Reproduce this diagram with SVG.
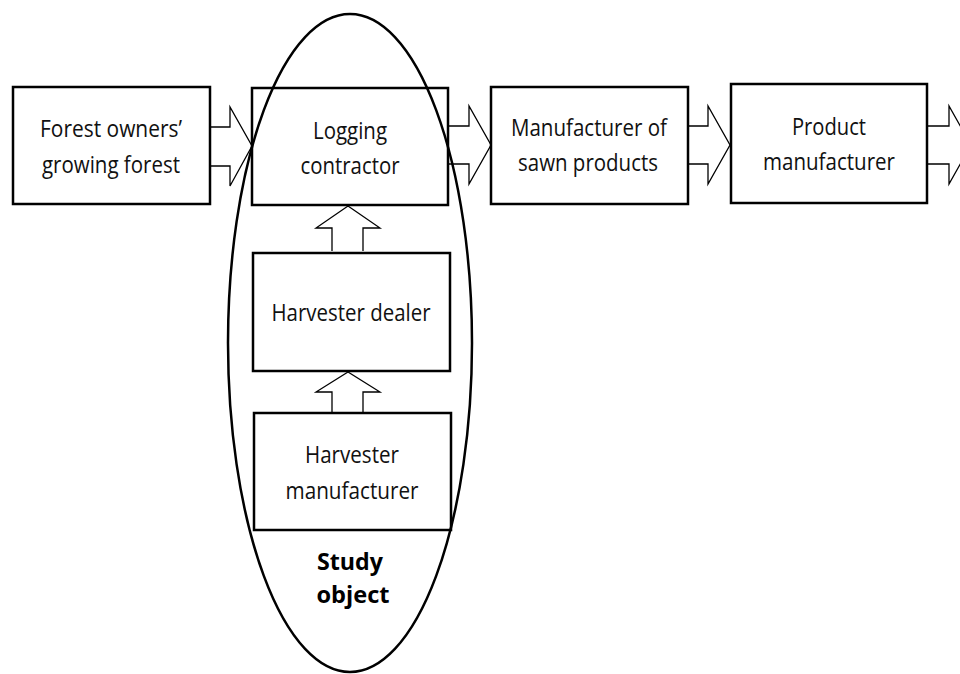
<svg xmlns="http://www.w3.org/2000/svg" width="960" height="674" viewBox="0 0 960 674">
<style>
.box{fill:#fff;stroke:#000;stroke-width:2.5}
.arr{fill:#fff;stroke:#000;stroke-width:1.3;stroke-linejoin:miter}
.t{font-family:"Open Sans","Liberation Sans",sans-serif;font-size:24px;fill:#111;text-anchor:middle}
.b{font-weight:bold;fill:#000}
</style>
<rect width="960" height="674" fill="#fff"/>
<g id="connectors">
<path class="arr" d="M210,127 H230 V107 L252,146 L230,186 V166 H210"/>
<path class="arr" d="M448,126 H469 V106 L491,145 L469,184 V164 H448"/>
<path class="arr" d="M688,126 H708 V106 L730,145 L708,184 V164 H688"/>
<path class="arr" d="M927,126 H949 V106 L971,145 L949,184 V164 H927"/>
<path class="arr" d="M332,251 V228 H316 L348,206 L380,228 H363 V251"/>
<path class="arr" d="M332,413 V392 H316 L348,372 L380,392 H363 V413"/>
</g>
<g id="forest-owners">
<rect class="box" x="13" y="87" width="197" height="117"/>
<text class="t" x="111" y="137" textLength="142" lengthAdjust="spacingAndGlyphs">Forest owners’</text>
<text class="t" x="111" y="173" textLength="138" lengthAdjust="spacingAndGlyphs">growing forest</text>
</g>
<g id="logging-contractor">
<rect class="box" x="252" y="88" width="196" height="117"/>
<text class="t" x="350" y="139" textLength="74" lengthAdjust="spacingAndGlyphs">Logging</text>
<text class="t" x="350" y="174" textLength="99" lengthAdjust="spacingAndGlyphs">contractor</text>
</g>
<g id="sawn-products">
<rect class="box" x="491" y="87" width="197" height="117"/>
<text class="t" x="589" y="136" textLength="156" lengthAdjust="spacingAndGlyphs">Manufacturer of</text>
<text class="t" x="588" y="171" textLength="140" lengthAdjust="spacingAndGlyphs">sawn products</text>
</g>
<g id="product-manufacturer">
<rect class="box" x="731" y="84" width="196" height="119"/>
<text class="t" x="829" y="135" textLength="74" lengthAdjust="spacingAndGlyphs">Product</text>
<text class="t" x="829" y="170" textLength="132" lengthAdjust="spacingAndGlyphs">manufacturer</text>
</g>
<g id="harvester-dealer">
<rect class="box" x="253" y="253" width="197" height="118"/>
<text class="t" x="351" y="321" textLength="159" lengthAdjust="spacingAndGlyphs">Harvester dealer</text>
</g>
<g id="harvester-manufacturer">
<rect class="box" x="254" y="413" width="197" height="117"/>
<text class="t" x="352" y="463" textLength="94" lengthAdjust="spacingAndGlyphs">Harvester</text>
<text class="t" x="352" y="499" textLength="133" lengthAdjust="spacingAndGlyphs">manufacturer</text>
</g>
<g id="study-object">
<ellipse cx="350" cy="343" rx="122" ry="329" fill="none" stroke="#000" stroke-width="2.5"/>
<text class="t b" x="350" y="570" textLength="66" lengthAdjust="spacingAndGlyphs">Study</text>
<text class="t b" x="353" y="603" textLength="73" lengthAdjust="spacingAndGlyphs">object</text>
</g>
</svg>
